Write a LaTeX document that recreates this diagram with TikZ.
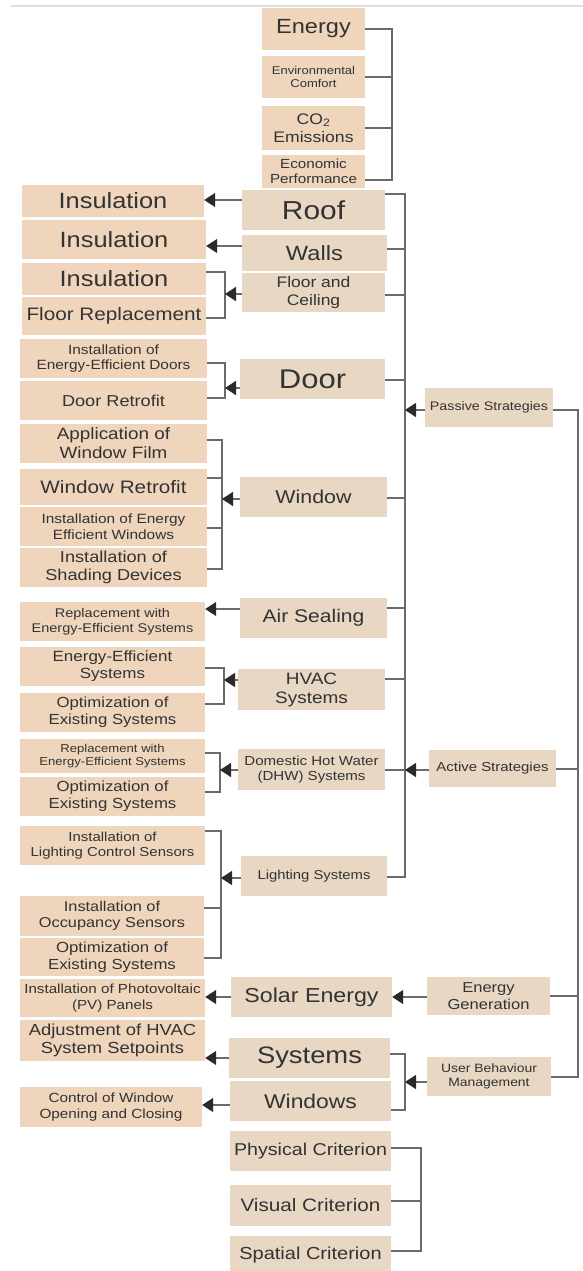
\documentclass[tikz,border=0pt]{standalone}
\usepackage{fontspec}
\setmainfont{Liberation Sans}[FakeStretch=1.15]
\usetikzlibrary{arrows.meta}
\definecolor{peach}{HTML}{EFD5BC}
\definecolor{sand}{HTML}{E7D7C3}
\definecolor{ink}{HTML}{333333}
\definecolor{wire}{HTML}{6A6A6A}
\definecolor{tipc}{HTML}{2A2A2A}
\definecolor{rulec}{HTML}{DDDDDD}
\newcommand\fs[1]{\fontsize{#1}{\fpeval{1.15*#1}}\selectfont}
% box from corner (x1,y1) to (x2,y2): name, style, x1, y1, x2, y2, font size, text
\newcommand\bx[8]{\node[#2, minimum width={(#5-#3)*1pt}, minimum height={(#6-#4)*1pt}, font=\fs{#7}] (#1) at ({(#3+#5)/2},{(#4+#6)/2}) {#8};}
\begin{document}
\begin{tikzpicture}[x=1pt,y=-1pt,
  box/.style={inner sep=0pt, align=center, text=ink},
  lbox/.style={box, fill=peach},
  mbox/.style={box, fill=sand},
  ln/.style={draw=wire, line width=1.3pt},
  arr/.style={ln, -{Triangle[length=11pt,width=14pt,color=tipc]}}]
\useasboundingbox (0,0) rectangle (583,1271);
\fill[white] (0,0) rectangle (583,1271);
\draw[rulec, line width=2pt] (11,6.5) -- (583,6.5);

% ---- evaluation criteria (top)
\bx{energy}{lbox}{262}{8}{365}{50}{20.5}{Energy}
\bx{envc}{lbox}{262}{56}{365}{98}{11.3}{Environmental\\Comfort}
\bx{co2}{lbox}{262}{106}{365}{150}{15.3}{CO\textsubscript{2}\\Emissions}
\bx{econ}{lbox}{262}{155}{365}{188}{13.2}{Economic\\Performance}
\coordinate (tbt) at (392,29);
\coordinate (tbb) at (392,180);
\draw[ln] (energy.east) -- (tbt) -- (tbb) -- (econ.east|-tbb);
\draw[ln] (envc.east) -- (envc.east-|tbt);
\draw[ln] (co2.east) -- (co2.east-|tbt);

% ---- building elements (middle column)
\bx{roof}{mbox}{242}{190}{385}{230}{26}{Roof}
\bx{walls}{mbox}{242}{235}{387}{271}{20.6}{Walls}
\bx{fc}{mbox}{242}{273}{385}{312}{15.2}{Floor and\\Ceiling}
\bx{door}{mbox}{240}{359}{385}{399}{27}{Door}
\bx{window}{mbox}{240}{477}{387}{517}{18.6}{Window}
\bx{air}{mbox}{240}{598}{387}{638}{18.3}{Air Sealing}
\bx{hvac}{mbox}{238}{669}{385}{710}{16.5}{HVAC\\Systems}
\bx{dhw}{mbox}{238}{749}{385}{790}{13.1}{Domestic Hot Water\\(DHW) Systems}
\bx{light}{mbox}{241}{856}{387}{896}{12.9}{Lighting Systems}
\bx{solar}{mbox}{231}{977}{392}{1017}{20.2}{Solar Energy}
\bx{sys}{mbox}{229}{1038}{390}{1078}{23.8}{Systems}
\bx{win2}{mbox}{230}{1081}{391}{1121}{19.9}{Windows}
\bx{phys}{mbox}{230}{1131}{391}{1171}{17.1}{Physical Criterion}
\bx{vis}{mbox}{230}{1185}{391}{1226}{18}{Visual Criterion}
\bx{spat}{mbox}{230}{1236}{391}{1273}{17.4}{Spatial Criterion}

% ---- strategies (right column)
\bx{passive}{mbox}{425}{388}{553}{427}{12.4}{Passive Strategies}
\bx{active}{mbox}{429}{750}{556}{787}{13}{Active Strategies}
\bx{egen}{mbox}{427}{977}{550}{1015}{14.4}{Energy\\Generation}
\bx{ubm}{mbox}{427}{1057}{551}{1096}{12.1}{User Behaviour\\Management}

% ---- measures (left column)
\bx{ins1}{lbox}{22}{185}{204}{217}{22.1}{Insulation}
\bx{ins2}{lbox}{22}{220}{206}{259}{22.1}{Insulation}
\bx{ins3}{lbox}{22}{263}{206}{295}{22.1}{Insulation}
\bx{floorrep}{lbox}{22}{297}{206}{335}{18}{Floor Replacement}
\bx{eedoors}{lbox}{20}{339}{207}{378}{13.4}{Installation of\\Energy-Efficient Doors}
\bx{doorret}{lbox}{20}{381}{207}{420}{15.8}{Door Retrofit}
\bx{winfilm}{lbox}{20}{424}{207}{463}{16.4}{Application of\\Window Film}
\bx{winret}{lbox}{20}{469}{207}{505}{18}{Window Retrofit}
\bx{eewin}{lbox}{20}{507}{207}{546}{13.4}{Installation of Energy\\Efficient Windows}
\bx{shade}{lbox}{20}{548}{207}{587}{15.8}{Installation of\\Shading Devices}
\bx{repl1}{lbox}{20}{602}{205}{641}{12.6}{Replacement with\\Energy-Efficient Systems}
\bx{eesys}{lbox}{20}{647}{205}{686}{14.8}{Energy-Efficient\\Systems}
\bx{opt1}{lbox}{20}{693}{205}{732}{14.6}{Optimization of\\Existing Systems}
\bx{repl2}{lbox}{20}{739}{205}{773}{11.4}{Replacement with\\Energy-Efficient Systems}
\bx{opt2}{lbox}{20}{777}{205}{816}{14.6}{Optimization of\\Existing Systems}
\bx{lcs}{lbox}{20}{826}{205}{865}{13}{Installation of\\Lighting Control Sensors}
\bx{occ}{lbox}{20}{896}{204}{936}{14.2}{Installation of\\Occupancy Sensors}
\bx{opt3}{lbox}{20}{938}{204}{976}{14.6}{Optimization of\\Existing Systems}
\bx{pv}{lbox}{20}{979}{205}{1017}{13.2}{Installation of Photovoltaic\\(PV) Panels}
\bx{hvacset}{lbox}{20}{1020}{205}{1061}{16}{Adjustment of HVAC\\System Setpoints}
\bx{winctl}{lbox}{20}{1087}{202}{1127}{13.3}{Control of Window\\Opening and Closing}

% ---- main trunk joining the building elements
\coordinate (mroof) at (405,194);
\coordinate (mwalls) at (405,249);
\coordinate (mfc) at (405,295);
\coordinate (mdoor) at (405,380);
\coordinate (mpass) at (405,410);
\coordinate (mwin) at (405,498);
\coordinate (mair) at (405,608);
\coordinate (mhvac) at (405,679);
\coordinate (mact) at (405,770);
\coordinate (mlight) at (405,877);
\draw[ln] (roof.east|-mroof) -- (mroof) -- (mlight) -- (light.east|-mlight);
\draw[ln] (walls.east|-mwalls) -- (mwalls);
\draw[ln] (fc.east|-mfc) -- (mfc);
\draw[ln] (door.east|-mdoor) -- (mdoor);
\draw[ln] (window.east|-mwin) -- (mwin);
\draw[ln] (air.east|-mair) -- (mair);
\draw[ln] (hvac.east|-mhvac) -- (mhvac);
\draw[ln] (dhw.east|-mact) -- (mact);
\draw[arr] (passive.west|-mpass) -- (mpass);
\draw[arr] (active.west|-mact) -- (mact);

% ---- right spine joining the strategies
\coordinate (rpass) at (578,410);
\coordinate (ract) at (578,769);
\coordinate (rgen) at (578,996);
\coordinate (rubm) at (578,1077);
\draw[ln] (passive.east|-rpass) -- (rpass) -- (rubm) -- (ubm.east|-rubm);
\draw[ln] (active.east|-ract) -- (ract);
\draw[ln] (egen.east|-rgen) -- (rgen);

% ---- energy generation and user behaviour
\draw[arr] (egen.west|-0,997) -- (solar.east|-0,997);
\coordinate (usys) at (405,1054);
\coordinate (uwin) at (405,1110);
\coordinate (umid) at (405,1082);
\draw[ln] (sys.east|-usys) -- (usys) -- (uwin) -- (win2.east|-uwin);
\draw[arr] (ubm.west|-umid) -- (umid);

% ---- criteria bracket (bottom)
\coordinate (cphys) at (421,1148);
\coordinate (cvis) at (421,1201);
\coordinate (cspat) at (421,1251);
\draw[ln] (phys.east|-cphys) -- (cphys) -- (cspat) -- (spat.east|-cspat);
\draw[ln] (vis.east|-cvis) -- (cvis);

% ---- single measures
\draw[arr] (roof.west|-0,200) -- (ins1.east|-0,200);
\draw[arr] (walls.west|-0,246) -- (ins2.east|-0,246);
\draw[arr] (air.west|-0,609) -- (repl1.east|-0,609);
\draw[arr] (solar.west|-0,997) -- (pv.east|-0,997);
\draw[arr] (sys.west|-0,1058) -- (hvacset.east|-0,1058);
\draw[arr] (win2.west|-0,1105) -- (winctl.east|-0,1105);

% ---- grouped measures
\coordinate (bfa) at (225,272);
\coordinate (bfb) at (225,318);
\coordinate (bfm) at (225,294);
\draw[ln] (ins3.east|-bfa) -- (bfa) -- (bfb) -- (floorrep.east|-bfb);
\draw[arr] (fc.west|-bfm) -- (bfm);

\coordinate (bda) at (225,363);
\coordinate (bdb) at (225,398);
\coordinate (bdm) at (225,388);
\draw[ln] (eedoors.east|-bda) -- (bda) -- (bdb) -- (doorret.east|-bdb);
\draw[arr] (door.west|-bdm) -- (bdm);

\coordinate (bwa) at (222,440);
\coordinate (bwb) at (222,478);
\coordinate (bwc) at (222,528);
\coordinate (bwd) at (222,569);
\coordinate (bwm) at (222,499);
\draw[ln] (winfilm.east|-bwa) -- (bwa) -- (bwd) -- (shade.east|-bwd);
\draw[ln] (winret.east|-bwb) -- (bwb);
\draw[ln] (eewin.east|-bwc) -- (bwc);
\draw[arr] (window.west|-bwm) -- (bwm);

\coordinate (bha) at (224,668);
\coordinate (bhb) at (224,704);
\coordinate (bhm) at (224,680);
\draw[ln] (eesys.east|-bha) -- (bha) -- (bhb) -- (opt1.east|-bhb);
\draw[arr] (hvac.west|-bhm) -- (bhm);

\coordinate (bta) at (220,753);
\coordinate (btb) at (220,792);
\coordinate (btm) at (220,770);
\draw[ln] (repl2.east|-bta) -- (bta) -- (btb) -- (opt2.east|-btb);
\draw[arr] (dhw.west|-btm) -- (btm);

\coordinate (bla) at (221,831);
\coordinate (blb) at (221,908);
\coordinate (blc) at (221,958);
\coordinate (blm) at (221,878);
\draw[ln] (lcs.east|-bla) -- (bla) -- (blc) -- (opt3.east|-blc);
\draw[ln] (occ.east|-blb) -- (blb);
\draw[arr] (light.west|-blm) -- (blm);
\end{tikzpicture}
\end{document}
